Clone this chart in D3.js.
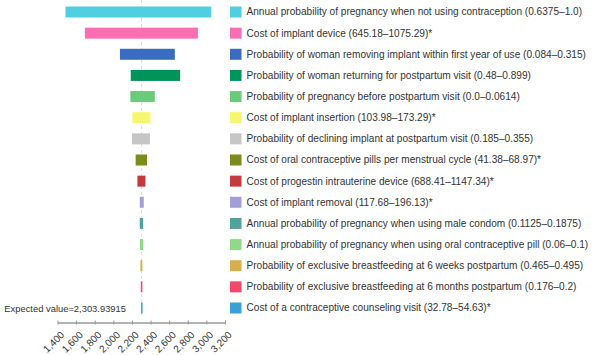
<!DOCTYPE html>
<html>
<head>
<meta charset="utf-8">
<script src="https://cdn.jsdelivr.net/npm/d3@7"></script>
<style>
    body { margin: 0; background: #fff; }
    svg { font-family: "Liberation Sans", Arial, sans-serif; }
</style>
</head>
<body>
<div id="tornado"></div>
<script>
var labels = [
    "Annual probability of pregnancy when not using contraception (0.6375\u20131.0)",
    "Cost of implant device (645.18\u20131075.29)*",
    "Probability of woman removing implant within first year of use (0.084\u20130.315)",
    "Probability of woman returning for postpartum visit (0.48\u20130.899)",
    "Probability of pregnancy before postpartum visit (0.0\u20130.0614)",
    "Cost of implant insertion (103.98\u2013173.29)*",
    "Probability of declining implant at postpartum visit (0.185\u20130.355)",
    "Cost of oral contraceptive pills per menstrual cycle (41.38\u201368.97)*",
    "Cost of progestin intrauterine device (688.41\u20131147.34)*",
    "Cost of implant removal (117.68\u2013196.13)*",
    "Annual probability of pregnancy when using male condom (0.1125\u20130.1875)",
    "Annual probability of pregnancy when using oral contraceptive pill (0.06\u20130.1)",
    "Probability of exclusive breastfeeding at 6 weeks postpartum (0.465\u20130.495)",
    "Probability of exclusive breastfeeding at 6 months postpartum (0.176\u20130.2)",
    "Cost of a contraceptive counseling visit (32.78\u201354.63)*"
];
var lows = [1486, 1694, 2071, 2187, 2183, 2205, 2200, 2240, 2259, 2284, 2284, 2287, 2291, 2295, 2298];
var highs = [3052, 2909, 2661, 2718, 2445, 2399, 2394, 2362, 2345, 2327, 2320, 2320, 2312, 2312, 2310];
var expectedValue = 2303.93915;
var tickValues = [1400, 1600, 1800, 2000, 2200, 2400, 2600, 2800, 3000, 3200];

var colors = ["#4fcfdf", "#ff6db3", "#3a6cc2", "#00945b", "#6dc97c", "#f6f66f", "#c6c6c6",
    "#7b8c1c", "#c13b41", "#a49ed6", "#4fa39b", "#8fd988", "#d5b04c", "#f0496c", "#3b9fd7"];

(function () {
    'use strict';
    var width = 598, height = 355,
        barHeight = 11,
        rows, x, y, svg, axis, legend;

    rows = labels.map(function (d, i) {
        return {label: d, low: lows[i], high: highs[i], color: colors[i]};
    });

    x = d3.scaleLinear().domain([1400, 3200]).range([57.5, 225]);
    y = d3.scalePoint().domain(labels).range([12, 308]);

    svg = d3.select("#tornado").append("svg")
        .attr("width", width)
        .attr("height", height);

    // reference line for the expected value
    svg.append("line")
        .attr("x1", x(expectedValue))
        .attr("x2", x(expectedValue))
        .attr("y1", 0)
        .attr("y2", 318)
        .attr("stroke", "#dcdcdc")
        .attr("stroke-dasharray", "3,3");

    svg.selectAll("rect.bar")
        .data(rows)
        .enter()
        .append("rect")
        .attr("class", "bar")
        .attr("x", function (d) { return x(d.low); })
        .attr("y", function (d) { return y(d.label) - barHeight / 2; })
        .attr("width", function (d) { return Math.max(1.5, x(d.high) - x(d.low)); })
        .attr("height", barHeight)
        .attr("fill", function (d) { return d.color; });

    svg.append("text")
        .attr("x", 126)
        .attr("y", y(labels[labels.length - 1]) + 3.5)
        .attr("text-anchor", "end")
        .attr("font-size", "9.4px")
        .attr("fill", "#333")
        .text("Expected value=" + d3.format(",")(expectedValue));

    // legend
    legend = svg.selectAll("g.legend")
        .data(rows)
        .enter()
        .append("g")
        .attr("class", "legend")
        .attr("transform", function (d) { return "translate(230," + y(d.label) + ")"; });

    legend.append("rect")
        .attr("x", 0)
        .attr("y", -5.5)
        .attr("width", 11.5)
        .attr("height", 11)
        .attr("fill", function (d) { return d.color; });

    legend.append("text")
        .attr("x", 16.5)
        .attr("dy", "0.34em")
        .attr("font-size", "10.1px")
        .attr("fill", "#333")
        .text(function (d) { return d.label; });

    // axis
    axis = svg.append("g")
        .attr("transform", "translate(0,322.5)")
        .call(d3.axisBottom(x)
            .tickValues(tickValues)
            .tickFormat(d3.format(","))
            .tickSizeInner(2)
            .tickSizeOuter(0));

    axis.select(".domain").attr("stroke", "#666");
    axis.selectAll(".tick line").attr("stroke", "#999").attr("y1", -2);
    axis.selectAll(".tick text")
        .attr("fill", "#333")
        .attr("font-size", "10px")
        .attr("text-anchor", "end")
        .attr("y", 0)
        .attr("dy", 0)
        .attr("transform", "translate(7,13) rotate(-45)");
}());
</script>
</body>
</html>
